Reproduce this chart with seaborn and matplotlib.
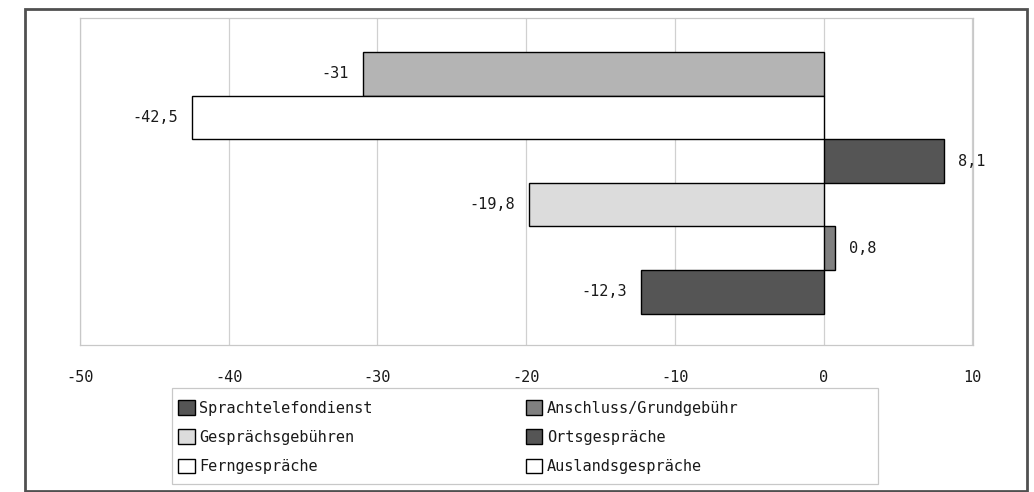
import matplotlib
matplotlib.use("Agg")
import matplotlib.pyplot as plt
import matplotlib.patches as mpatches
import pandas as pd
import seaborn as sns

# bars from top to bottom
categories = [
    "Auslandsgespräche",
    "Ferngespräche",
    "Ortsgespräche",
    "Gesprächsgebühren",
    "Anschluss/Grundgebühr",
    "Sprachtelefondienst"
]
values = [-31, -42.5, 8.1, -19.8, 0.8, -12.3]
value_labels = ["-31", "-42,5", "8,1", "-19,8", "0,8", "-12,3"]
bar_colors = ["#b4b4b4", "#ffffff", "#555555", "#dcdcdc", "#808080", "#555555"]

# legend reading order (row by row in the reference)
legend_order = [
    "Sprachtelefondienst",
    "Anschluss/Grundgebühr",
    "Gesprächsgebühren",
    "Ortsgespräche",
    "Ferngespräche",
    "Auslandsgespräche"
]
legend_colors = ["#555555", "#808080", "#dcdcdc", "#555555", "#ffffff", "#ffffff"]
x_ticks = [-50, -40, -30, -20, -10, 0, 10]

df = pd.DataFrame({"Kategorie": categories, "Wert": values})

sns.set_style("white")
plt.rcParams["font.family"] = ["DejaVu Sans Mono", "DejaVu Sans"]
plt.rcParams["text.color"] = "#1a1a1a"
plt.rcParams["xtick.color"] = "#1a1a1a"

fig = plt.figure(figsize=(10.34, 4.92), dpi=100)
ax = fig.add_axes([80 / 1034, 1 - 345 / 492, 893 / 1034, 327 / 492])

sns.barplot(
    data=df,
    x="Wert",
    y="Kategorie",
    hue="Kategorie",
    palette=dict(zip(categories, bar_colors)),
    orient="h",
    width=1.0,
    edgecolor="black",
    linewidth=1.0,
    legend=False,
    ax=ax
)

ax.set_xlim(-50, 10.05)
ax.set_ylim(5.5 + 0.72, -0.5 - 0.78)
ax.set_xticks(x_ticks)
ax.set_xticklabels([str(t) for t in x_ticks], fontsize=11)
ax.set_yticks([])
ax.set_xlabel("")
ax.set_ylabel("")
ax.tick_params(axis="x", length=0, pad=18)
ax.xaxis.grid(True, color="#d0d0d0", linewidth=0.9)
ax.set_axisbelow(True)
for s in ax.spines.values():
    s.set_color("#c8c8c8")
    s.set_linewidth(0.9)

for i, (v, lab) in enumerate(zip(values, value_labels)):
    if v < 0:
        ax.annotate(lab, (v, i), xytext=(-10, 0), textcoords="offset points",
                    ha="right", va="center", fontsize=11)
    else:
        ax.annotate(lab, (v, i), xytext=(10, 0), textcoords="offset points",
                    ha="left", va="center", fontsize=11)

# matplotlib fills legend columns first, so reorder
col_order = [0, 2, 4, 1, 3, 5]
handles = [
    mpatches.Patch(facecolor=legend_colors[k], edgecolor="black", linewidth=1.0)
    for k in col_order
]
labels = [legend_order[k] for k in col_order]
fig.legend(
    handles,
    labels,
    ncol=2,
    loc="upper left",
    bbox_to_anchor=(178 / 1034, 1 - 400 / 492),
    fontsize=11,
    frameon=False,
    handlelength=1.1,
    handleheight=1.1,
    handletextpad=0.3,
    labelspacing=0.9,
    columnspacing=10.0,
    borderpad=0,
    borderaxespad=0
)

# legend box
fig.patches.append(mpatches.Rectangle(
    (172 / 1034, 1 - 484 / 492), 706 / 1034, 96 / 492,
    transform=fig.transFigure, fill=False, edgecolor="#c8c8c8", linewidth=0.9
))

# outer chart border
fig.patches.append(mpatches.Rectangle(
    (25 / 1034, 1 - 491 / 492), 1002 / 1034, 482 / 492,
    transform=fig.transFigure, fill=False, edgecolor="#505050", linewidth=2
))

fig.savefig("out.png", dpi=100)
